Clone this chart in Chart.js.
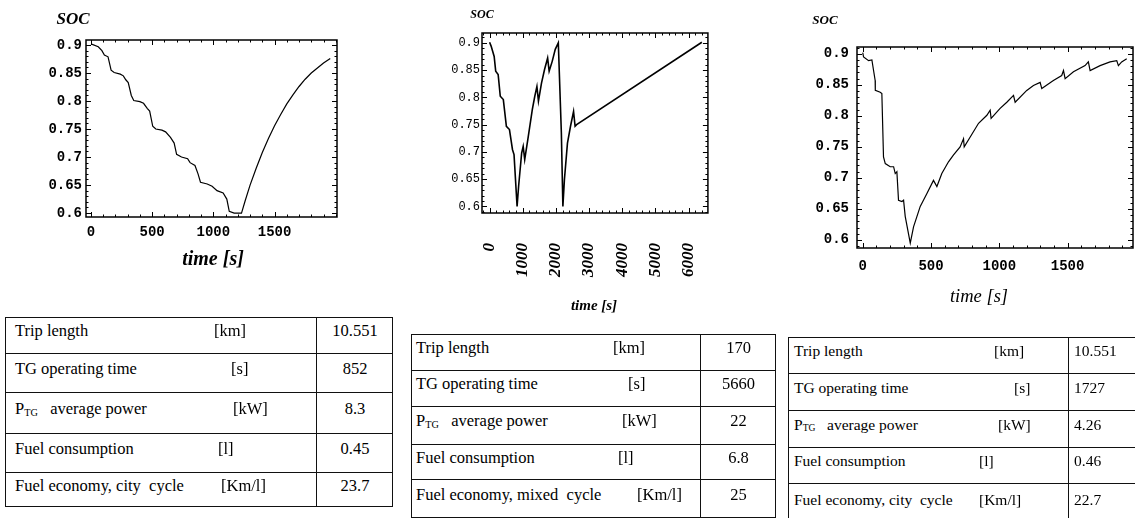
<!DOCTYPE html>
<html>
<head>
<meta charset="utf-8">
<script src="https://cdn.jsdelivr.net/npm/chart.js@4.4.1/dist/chart.umd.min.js"></script>
<style>
  html, body { margin: 0; padding: 0; background: #fff; }
  body { width: 1135px; height: 518px; position: relative; overflow: hidden; }
  .box { position: absolute; }
  .lbl { position: absolute; transform: translate(-50%, -50%); white-space: nowrap;
         font-family: 'Liberation Serif', 'Times New Roman', serif; color: #000; }
  .tbl { position: absolute; border: 1.5px solid #111; box-sizing: border-box;
         font-family: 'Liberation Serif', 'Times New Roman', serif; color: #000; }
  .tbl .hl { position: absolute; left: 0; right: 0; border-top: 1.5px solid #111; }
  .tbl .vl { position: absolute; top: 0; bottom: 0; border-left: 1.5px solid #111; }
  .tbl .txt { position: absolute; transform: translateY(-50%); white-space: nowrap; }
  .tbl sub { font-size: 0.62em; vertical-align: -0.15em; }
</style>
</head>
<body>

<div class="box" style="left:0;top:0"><canvas id="soc1" width="350" height="275"></canvas></div>
<div class="box" style="left:380px;top:0"><canvas id="soc2" width="360" height="300"></canvas></div>
<div class="box" style="left:760px;top:0"><canvas id="soc3" width="375" height="310"></canvas></div>

<div class="lbl" style="left:73px;top:19px;font:italic bold 17px 'Liberation Serif',serif">SOC</div>
<div class="lbl" style="left:482px;top:14px;font:italic bold 12px 'Liberation Serif',serif">SOC</div>
<div class="lbl" style="left:825px;top:20px;font:italic bold 13px 'Liberation Serif',serif">SOC</div>

<div class="lbl" style="left:213px;top:258px;font:italic bold 20px 'Liberation Serif',serif">time [s]</div>
<div class="lbl" style="left:594px;top:305px;font:italic bold 15px 'Liberation Serif',serif">time [s]</div>
<div class="lbl" style="left:979px;top:296px;font:italic 18.5px 'Liberation Serif',serif">time [s]</div>

<script>
// ---------------------------------------------------------------------------
// data
// ---------------------------------------------------------------------------
const time1 = [0, 60, 90, 110, 140, 165, 190, 240, 265, 285, 305, 330, 350, 400, 430, 460, 480, 505, 530, 580,
  610, 650, 680, 700, 740, 790, 810, 850, 875, 895, 950, 990, 1030, 1080, 1110, 1130, 1170, 1230, 1260, 1300,
  1350, 1400, 1450, 1500, 1550, 1600, 1650, 1700, 1750, 1800, 1850, 1900, 1955];
const soc1 = [0.902, 0.897, 0.89, 0.882, 0.879, 0.855, 0.851, 0.848, 0.845, 0.838, 0.833, 0.81, 0.801, 0.799, 0.796,
  0.787, 0.782, 0.755, 0.75, 0.748, 0.745, 0.735, 0.725, 0.705, 0.7, 0.697, 0.69, 0.685, 0.67, 0.655, 0.652, 0.648,
  0.64, 0.636, 0.625, 0.603, 0.6, 0.6, 0.622, 0.65, 0.68, 0.708, 0.733, 0.756, 0.776, 0.795, 0.811, 0.826, 0.839,
  0.85, 0.859, 0.868, 0.876];

const time2 = [0, 46, 138, 184, 258, 322, 414, 506, 599, 691, 737, 829, 875, 967, 1013, 1059, 1151, 1289, 1363,
  1427, 1473, 1565, 1657, 1750, 1796, 1888, 1980, 2072, 2164, 2210, 2256, 2348, 2440, 2532, 2578, 2624, 6400];
const soc2 = [0.901, 0.894, 0.875, 0.848, 0.842, 0.802, 0.796, 0.747, 0.741, 0.704, 0.695, 0.6, 0.637, 0.698, 0.71,
  0.686, 0.722, 0.778, 0.802, 0.82, 0.793, 0.826, 0.851, 0.872, 0.848, 0.866, 0.888, 0.9, 0.735, 0.6, 0.649, 0.716,
  0.747, 0.774, 0.747, 0.75, 0.901];

const time3 = [0, 6, 43, 67, 91, 92, 128, 140, 152, 165, 201, 226, 238, 250, 262, 287, 299, 311, 348, 372, 421, 470,
  518, 543, 579, 628, 665, 713, 738, 743, 787, 848, 909, 933, 940, 1006, 1055, 1104, 1116, 1201, 1250, 1299, 1311,
  1396, 1457, 1470, 1482, 1543, 1628, 1652, 1665, 1738, 1811, 1860, 1872, 1896, 1933];
const soc3 = [0.902, 0.895, 0.889, 0.89, 0.857, 0.841, 0.838, 0.836, 0.734, 0.723, 0.718, 0.718, 0.707, 0.71, 0.664,
  0.662, 0.664, 0.638, 0.595, 0.621, 0.654, 0.675, 0.696, 0.686, 0.707, 0.726, 0.737, 0.75, 0.763, 0.75, 0.766,
  0.788, 0.801, 0.809, 0.796, 0.812, 0.822, 0.833, 0.822, 0.841, 0.849, 0.854, 0.844, 0.857, 0.865, 0.873, 0.86,
  0.871, 0.881, 0.887, 0.873, 0.881, 0.887, 0.889, 0.881, 0.887, 0.892];

// tick values and labels
const socTicks = [0.6, 0.65, 0.7, 0.75, 0.8, 0.85, 0.9];
const socTickLabels = ['0.6', '0.65', '0.7', '0.75', '0.8', '0.85', '0.9'];
const cityTicks = [0, 500, 1000, 1500];
const mixedTicks = [0, 1000, 2000, 3000, 4000, 5000, 6000];

// table texts
const rowLabels = ['Trip length', 'TG operating time', 'P<sub>TG</sub>&nbsp;&nbsp; average power', 'Fuel consumption'];
const lastLabelCity = 'Fuel economy, city&nbsp; cycle';
const lastLabelMixed = 'Fuel economy, mixed&nbsp; cycle';
const rowUnits = ['[km]', '[s]', '[kW]', '[l]', '[Km/l]'];
const values1 = ['10.551', '852', '8.3', '0.45', '23.7'];
const values2 = ['170', '5660', '22', '6.8', '25'];
const values3 = ['10.551', '1727', '4.26', '0.46', '22.7'];

// ---------------------------------------------------------------------------
// frame with inward ticks (Mathematica style)
// ---------------------------------------------------------------------------
const framePlugin = {
  id: 'frame',
  afterDraw(chart, args, opts) {
    const { ctx, chartArea: a, scales: { x, y } } = chart;
    ctx.save();
    ctx.strokeStyle = '#000';
    ctx.lineWidth = 1.5;
    ctx.strokeRect(a.left, a.top, a.width, a.height);
    ctx.lineWidth = 1;
    ctx.beginPath();
    function xt(v, len) {
      const px = Math.round(x.getPixelForValue(v)) + 0.5;
      ctx.moveTo(px, a.bottom); ctx.lineTo(px, a.bottom - len);
      ctx.moveTo(px, a.top); ctx.lineTo(px, a.top + len);
    }
    function yt(v, len) {
      const py = Math.round(y.getPixelForValue(v)) + 0.5;
      ctx.moveTo(a.left, py); ctx.lineTo(a.left + len, py);
      ctx.moveTo(a.right, py); ctx.lineTo(a.right - len, py);
    }
    for (let v = Math.ceil(x.min / opts.xMinor) * opts.xMinor; v <= x.max; v += opts.xMinor) xt(v, 2.5);
    for (let i = Math.ceil(y.min / opts.yMinor); i * opts.yMinor <= y.max; i++) yt(i * opts.yMinor, 2.5);
    x.ticks.forEach(t => xt(t.value, 5));
    y.ticks.forEach(t => yt(t.value, 5));
    ctx.stroke();
    ctx.restore();
  }
};

function socChart(id, cfg) {
  return new Chart(document.getElementById(id), {
    type: 'line',
    data: {
      datasets: [{
        data: cfg.t.map((t, i) => ({ x: t, y: cfg.soc[i] })),
        borderColor: '#000',
        borderWidth: cfg.lw,
        pointRadius: 0,
        tension: 0,
        fill: false
      }]
    },
    options: {
      responsive: false,
      animation: false,
      events: [],
      layout: { padding: { top: cfg.top, right: cfg.right, left: 0, bottom: 0 } },
      plugins: { legend: { display: false }, tooltip: { enabled: false }, frame: cfg.minor },
      scales: {
        x: {
          type: 'linear',
          min: cfg.xMin,
          max: cfg.xMax,
          afterBuildTicks: s => { s.ticks = cfg.xTicks.map(v => ({ value: v })); },
          afterFit: s => { s.height = cfg.xh; },
          grid: { display: false, drawTicks: false },
          border: { display: false },
          ticks: Object.assign({ color: '#000', autoSkip: false, font: cfg.xFont, padding: cfg.xPad,
            callback: v => String(v) }, cfg.xRot)
        },
        y: {
          min: cfg.yMin,
          max: cfg.yMax,
          afterBuildTicks: s => { s.ticks = socTicks.map(v => ({ value: v })); },
          afterFit: s => { s.width = cfg.yw; },
          grid: { display: false, drawTicks: false },
          border: { display: false },
          ticks: { color: '#000', font: cfg.yFont, padding: cfg.yPad, callback: (v, i) => socTickLabels[i] }
        }
      }
    },
    plugins: [framePlugin]
  });
}

const monoBold = { family: "'Liberation Mono', 'DejaVu Sans Mono', monospace", size: 14, weight: 'bold' };

socChart('soc1', {
  t: time1, soc: soc1, lw: 1.2, top: 40, right: 13, yw: 86, xh: 58,
  xMin: -40, xMax: 2010, yMin: 0.593, yMax: 0.909, xTicks: cityTicks,
  xFont: monoBold, yFont: monoBold, xPad: 7, yPad: 4, xRot: { maxRotation: 0 },
  minor: { xMinor: 100, yMinor: 0.01 }
});

socChart('soc2', {
  t: time2, soc: soc2, lw: 1.6, top: 33, right: 12, yw: 102, xh: 87,
  xMin: -229, xMax: 6583, yMin: 0.588, yMax: 0.918, xTicks: mixedTicks,
  xFont: { family: "'Liberation Serif', serif", size: 17, weight: 'bold', style: 'italic' },
  yFont: { family: "'Liberation Mono', monospace", size: 12 },
  xPad: 30, yPad: 2, xRot: { minRotation: 90, maxRotation: 90 },
  minor: { xMinor: 200, yMinor: 0.01 }
});

socChart('soc3', {
  t: time3, soc: soc3, lw: 1.2, top: 47, right: 2, yw: 97, xh: 62,
  xMin: -42, xMax: 1979, yMin: 0.587, yMax: 0.911, xTicks: cityTicks,
  xFont: monoBold, yFont: monoBold, xPad: 10, yPad: 8, xRot: { maxRotation: 0 },
  minor: { xMinor: 100, yMinor: 0.01 }
});

// ---------------------------------------------------------------------------
// result tables
// ---------------------------------------------------------------------------
function buildTable(cfg) {
  const tbl = document.createElement('div');
  tbl.className = 'tbl';
  tbl.style.left = cfg.left + 'px';
  tbl.style.top = cfg.rows[0] + 'px';
  tbl.style.width = (cfg.right - cfg.left) + 'px';
  tbl.style.height = (cfg.rows[cfg.rows.length - 1] - cfg.rows[0]) + 'px';
  tbl.style.fontSize = cfg.size + 'px';
  const labels = rowLabels.concat([cfg.last]);
  const split = cfg.split - cfg.left;
  let html = '<div class="vl" style="left:' + split + 'px"></div>';
  labels.forEach((lab, i) => {
    const top = cfg.rows[i] - cfg.rows[0];
    const mid = top + (cfg.rows[i + 1] - cfg.rows[i]) / 2 - 5;
    if (i > 0) html += '<div class="hl" style="top:' + (top - 1.5) + 'px"></div>';
    html += '<div class="txt" style="left:' + cfg.pad + 'px;top:' + mid + 'px">' + lab + '</div>';
    html += '<div class="txt" style="left:' + cfg.unitX[i] + 'px;top:' + mid + 'px">' + rowUnits[i] + '</div>';
    if (cfg.center) {
      html += '<div class="txt" style="left:' + split + 'px;width:' + (cfg.right - cfg.split) +
        'px;text-align:center;top:' + mid + 'px">' + cfg.values[i] + '</div>';
    } else {
      html += '<div class="txt" style="left:' + (split + 6) + 'px;top:' + mid + 'px">' + cfg.values[i] + '</div>';
    }
  });
  tbl.innerHTML = html;
  document.body.appendChild(tbl);
}

buildTable({ left: 5, right: 393, split: 315, rows: [317, 353, 392, 433, 472, 507], size: 16.5, pad: 9,
  unitX: [208, 225, 227, 212, 215], values: values1, last: lastLabelCity, center: true });
buildTable({ left: 411, right: 776, split: 699, rows: [334, 370, 406, 444, 479, 518], size: 16.5, pad: 4,
  unitX: [201, 216, 210, 206, 225], values: values2, last: lastLabelMixed, center: true });
buildTable({ left: 788, right: 1145, split: 1067, rows: [337, 373, 410, 447, 483, 524], size: 15.5, pad: 5,
  unitX: [205, 225, 209, 190, 190], values: values3, last: lastLabelCity, center: false });
</script>
</body>
</html>
